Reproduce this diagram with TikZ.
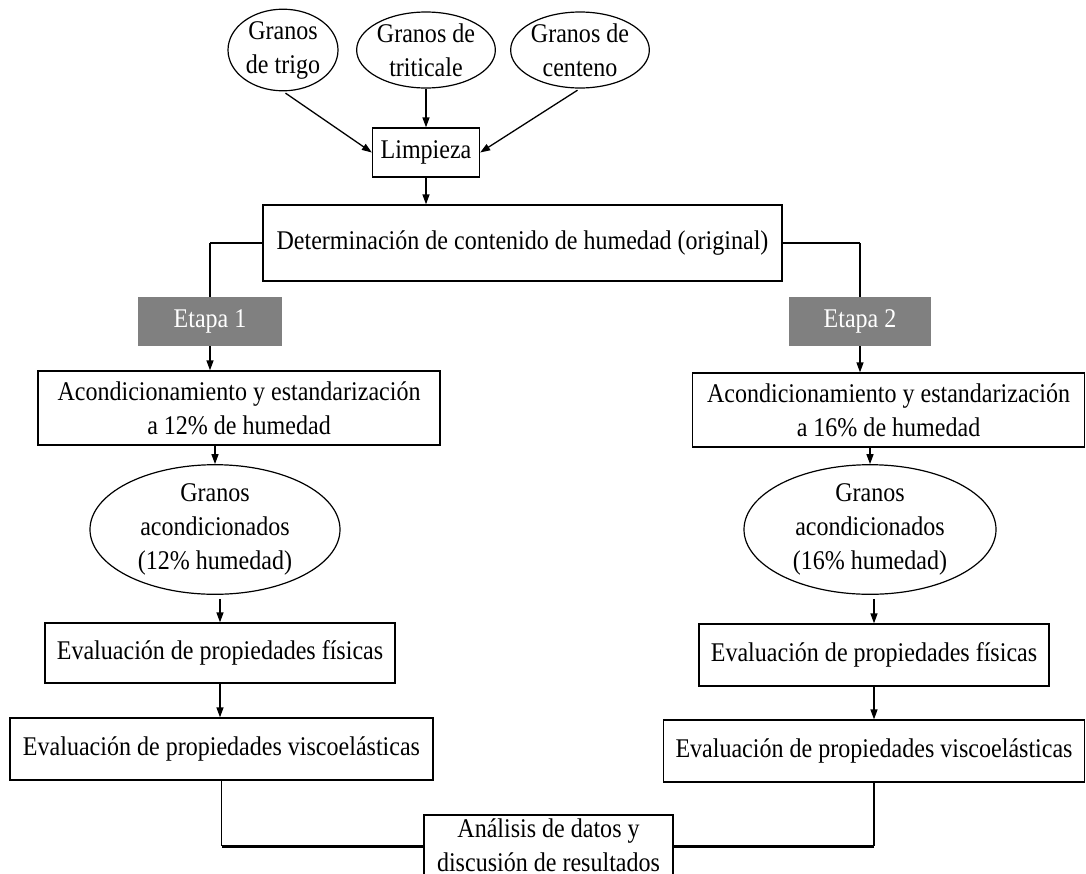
\documentclass[tikz,border=0pt]{standalone}
\usepackage{fontspec}
\setmainfont{Liberation Serif}[FakeStretch=0.89]
\usetikzlibrary{arrows.meta,shapes.geometric,calc}
\definecolor{etapagray}{RGB}{128,128,128}
\begin{document}
\begin{tikzpicture}[x=1pt,y=-1pt,
  every node/.style={font=\fontsize{27}{34}\selectfont, align=center, inner sep=0pt},
  oval/.style={draw, ellipse, line width=1.2pt},
  box/.style={draw, rectangle, line width=1.3pt},
  etapabox/.style={rectangle, fill=etapagray, text=white},
  arr/.style={line width=1.3pt, -{Triangle[length=10pt,width=7pt]}},
  conn/.style={line width=2.6pt},
  thinconn/.style={line width=1.3pt}]
\useasboundingbox (0,0) rectangle (1086,873);
\clip (0,0) rectangle (1086,873);
% top ovals
\node[oval, minimum width=110, minimum height=76] (o1) at (283,50) {Granos\\de trigo};
\node[oval, minimum width=128, minimum height=76] (o2) at (426,50) {Granos de\\triticale};
\node[oval, minimum width=134, minimum height=76] (o3) at (580,50) {Granos de\\centeno};
\node[box, minimum width=107, minimum height=49] (limp) at (426,152.5) {Limpieza};
\node[box, minimum width=519, minimum height=76] (det) at (522.5,243) {Determinación de contenido de humedad (original)};
\node[etapabox, minimum width=144, minimum height=49] (e1) at (210,321.5) {Etapa 1};
\node[etapabox, minimum width=142, minimum height=49] (e2) at (860,321.5) {Etapa 2};
\node[box, minimum width=402, minimum height=74] (a1) at (239,408) {Acondicionamiento y estandarización\\a 12\% de humedad};
\node[box, minimum width=392, minimum height=74] (a2) at (888.5,410) {Acondicionamiento y estandarización\\a 16\% de humedad};
\node[oval, minimum width=250, minimum height=113] (g1) at (215,529.5) {Granos\\acondicionados\\(12\% humedad)};
\node[oval, minimum width=252, minimum height=113] (g2) at (870,529.5) {Granos\\acondicionados\\(16\% humedad)};
\node[box, minimum width=350, minimum height=60] (f1) at (220,653) {Evaluación de propiedades físicas};
\node[box, minimum width=350, minimum height=62] (f2) at (874,655) {Evaluación de propiedades físicas};
\node[box, minimum width=423, minimum height=62] (v1) at (221.5,749) {Evaluación de propiedades viscoelásticas};
\node[box, minimum width=421, minimum height=62] (v2) at (874,751) {Evaluación de propiedades viscoelásticas};
\node[box, minimum width=249, minimum height=60] (an) at (548.5,845) {Análisis de datos y\\discusión de resultados};
\coordinate (b1) at ($(an.north west)+(0,32)$);
\coordinate (b2) at ($(an.north east)+(0,32)$);
% connectors
\draw[arr, shorten <=3pt] (o1.south) -- (limp.west);
\draw[arr] (o2.south) -- (limp.north);
\draw[arr, shorten <=3pt] (o3.south) -- (limp.east);
\draw[arr] (limp.south) -- (limp.south |- det.north);
\draw[conn] (det.west) -- (det.west -| e1.north);
\draw[thinconn] (det.west -| e1.north) -- (e1.north);
\draw[conn] (det.east) -- (det.east -| e2.north);
\draw[thinconn] (det.east -| e2.north) -- (e2.north);
\draw[arr] (e1.south) -- (e1.south |- a1.north);
\draw[arr] (e2.south) -- (e2.south |- a2.north);
\draw[arr] (g1.north |- a1.south) -- (g1.north);
\draw[arr] (g2.north |- a2.south) -- (g2.north);
\draw[arr, shorten <=4pt] (f1.north |- g1.south) -- (f1.north);
\draw[arr, shorten <=4pt] (f2.north |- g2.south) -- (f2.north);
\draw[arr] (f1.south) -- (f1.south |- v1.north);
\draw[arr] (f2.south) -- (f2.south |- v2.north);
\draw[thinconn] (v1.south) -- (v1.south |- b1);
\draw[conn] (v1.south |- b1) -- (b1);
\draw[thinconn] (v2.south) -- (v2.south |- b2);
\draw[conn] (v2.south |- b2) -- (b2);
\end{tikzpicture}
\end{document}
